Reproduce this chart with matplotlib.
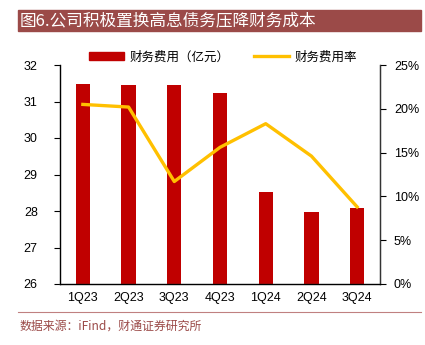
import matplotlib.pyplot as plt
import numpy as np
from matplotlib.patches import Rectangle
from matplotlib.lines import Line2D
from matplotlib.ticker import FuncFormatter

plt.rcParams['font.family'] = ['Noto Sans CJK SC', 'DejaVu Sans']

quarters = ['1Q23', '2Q23', '3Q23', '4Q23', '1Q24', '2Q24', '3Q24']
fin_cost = [31.47, 31.44, 31.45, 31.23, 28.52, 27.97, 28.08]   # 亿元
fin_rate = [20.5, 20.2, 11.7, 15.6, 18.3, 14.6, 8.8]           # %

bar_color = '#C00000'
line_color = '#FFC000'
brown = '#9B4A48'
num_font = 'Liberation Sans'

fig = plt.figure(figsize=(4.25, 3.45), dpi=100)
ax = fig.add_axes([60 / 425, 1 - 284 / 345, 320 / 425, 219 / 345])
x = np.arange(len(quarters))

ax.bar(x, fin_cost, width=0.31, color=bar_color, zorder=2)
ax.set_ylim(26, 32)
ax.set_xlim(-0.5, len(quarters) - 0.5)
ax.set_yticks(range(26, 33))
ax.set_xticks(x)
ax.set_xticklabels(quarters)
ax.tick_params(axis='x', length=0, pad=6, labelsize=9)
ax.tick_params(axis='y', direction='out', length=4, labelsize=9, pad=12)
for lab in ax.get_xticklabels() + ax.get_yticklabels():
    lab.set_family(num_font)
ax.spines['top'].set_visible(False)
for s in ['left', 'bottom', 'right']:
    ax.spines[s].set_color('#333333')
    ax.spines[s].set_linewidth(1.0)

ax2 = ax.twinx()
ax2.plot(x, fin_rate, color=line_color, lw=2.4, zorder=3)
ax2.set_ylim(0, 25)
ax2.set_yticks(range(0, 26, 5))
ax2.yaxis.set_major_formatter(FuncFormatter(lambda v, p: f'{v:.0f}%'))
ax2.tick_params(axis='y', direction='out', length=4, labelsize=9, pad=6)
for lab in ax2.get_yticklabels():
    lab.set_family(num_font)
ax2.spines['top'].set_visible(False)
ax2.spines['right'].set_color('#333333')

# legend
handles = [Rectangle((0, 0), 1, 1, color=bar_color),
           Line2D([0], [0], color=line_color, lw=2.4)]
fig.legend(handles, ['财务费用（亿元）', '财务费用率'], loc='center',
           bbox_to_anchor=(0.525, 1 - 57 / 345), ncol=2, frameon=False,
           fontsize=9, handlelength=2.8, handleheight=0.6, columnspacing=2.0,
           handletextpad=0.4)

# title banner
fig.patches.append(Rectangle((18 / 425, 1 - 31 / 345), 403 / 425, 21 / 345,
                             transform=fig.transFigure, color=brown, zorder=0))
fig.text(20 / 425, 1 - 20.5 / 345, '图6.公司积极置换高息债务压降财务成本', color='white',
         fontsize=12, va='center', ha='left')

# footer
fig.add_artist(Line2D([18 / 425, 421 / 425], [1 - 312 / 345, 1 - 312 / 345],
                      transform=fig.transFigure, color='#C08080', lw=0.8))
fig.text(19 / 425, 1 - 326 / 345, '数据来源：iFind，财通证券研究所', color=brown,
         fontsize=8.6, va='center', ha='left')

fig.savefig('out.png', dpi=100)
